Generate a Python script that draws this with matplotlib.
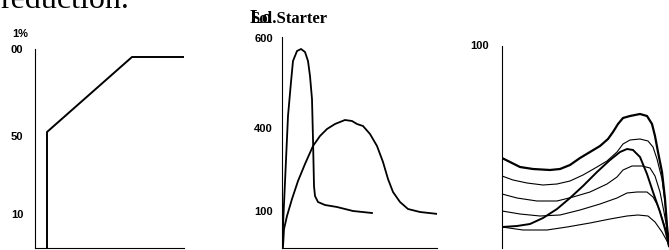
import numpy as np
import matplotlib.pyplot as plt

plt.rcParams['font.family'] = ['Liberation Serif', 'DejaVu Serif']

# Panel 1: ramp curve (x units along axis, y units above baseline)
p1_x = [12, 12, 97, 149]
p1_y = [0, 116, 191, 191]
p1_ticks = [200, 113, 35]
p1_labels = ['00', '50', '10']

# Panel 2: two current curves
p2a_x = [0, 3, 6, 9, 11, 15, 19, 23, 26, 28, 30, 31, 32, 33, 36, 43, 55, 71, 90]
p2a_y = [0, 66, 132, 166, 187, 197, 199, 196, 187, 172, 149, 109, 62, 52, 46, 43, 41, 37, 35]
p2b_x = [1, 2, 5, 10, 16, 23, 31, 38, 45, 53, 63, 70, 75, 81, 88, 95, 101, 106, 111,
         118, 126, 138, 156]
p2b_y = [1, 19, 32, 49, 67, 84, 102, 112, 119, 124, 128, 127, 124, 122, 114, 102, 86,
         69, 56, 46, 39, 36, 34]
p2_ticks = [211, 121, 38]
p2_labels = ['600', '400', '100']

# Panel 3: family of curves
p3_top_x = [0, 8, 18, 31, 48, 58, 68, 78, 88, 98, 106, 111, 116, 121, 128, 138, 145,
            150, 153, 156, 160, 163, 165, 167]
p3_top_y = [90, 86, 81, 79, 78, 79, 83, 90, 96, 102, 109, 116, 124, 130, 132, 134, 132,
            124, 112, 96, 76, 49, 22, 2]
p3_c1_x = [0, 11, 25, 41, 55, 68, 81, 95, 105, 115, 121, 128, 138, 146, 151, 155, 160,
           163, 165, 167]
p3_c1_y = [72, 68, 65, 63, 64, 67, 73, 81, 87, 96, 104, 108, 109, 107, 101, 89, 69, 46,
           22, 2]
p3_c2_x = [0, 15, 35, 55, 71, 88, 105, 115, 121, 130, 140, 148, 153, 158, 162, 165, 167]
p3_c2_y = [54, 50, 47, 47, 51, 56, 64, 71, 78, 82, 82, 80, 72, 56, 36, 19, 2]
p3_c3_x = [0, 18, 38, 58, 78, 98, 115, 125, 135, 145, 151, 156, 161, 165, 167]
p3_c3_y = [37, 34, 32, 33, 38, 44, 50, 55, 56, 56, 51, 42, 27, 14, 2]
p3_c4_x = [0, 21, 45, 65, 88, 108, 125, 136, 146, 153, 160, 165, 167]
p3_c4_y = [21, 18, 18, 21, 25, 29, 32, 33, 32, 26, 16, 7, 2]
p3_rise_x = [0, 15, 28, 41, 55, 68, 81, 95, 108, 118, 125, 131, 138, 145, 151, 158,
             163, 167]
p3_rise_y = [21, 22, 24, 30, 39, 50, 62, 76, 88, 96, 99, 98, 91, 74, 56, 36, 19, 2]
p3_ticks = [204]
p3_labels = ['100']

fig = plt.figure(figsize=(6.69, 2.51), dpi=100)
W, H = 669.0, 251.0


def make_ax(x0, x1, top, pad):
    # axes placed in pixel positions; baseline at y=249
    ax = fig.add_axes([x0 / W, (H - 249) / H, (x1 - x0) / W, (249 - top) / H])
    ax.set_xlim(0, x1 - x0)
    ax.set_ylim(0, 249 - top)
    for s in ['top', 'right']:
        ax.spines[s].set_visible(False)
    ax.set_xticks([])
    ax.tick_params(axis='y', length=0, pad=pad)
    return ax


tick_font = dict(fontsize=8, fontweight='bold', family=['Liberation Sans', 'DejaVu Sans'])

ax1 = make_ax(35, 184, 10, 8.5)
ax1.spines['left'].set_bounds(0, 199)
ax1.plot(p1_x, p1_y, color='black', lw=1.4)
ax1.set_yticks(p1_ticks, p1_labels, **tick_font)
ax1.text(-23, 215, '1%', va='center', **tick_font)

ax2 = make_ax(282, 437, 5, 6.5)
ax2.spines['left'].set_bounds(0, 211)
ax2.plot(p2a_x, p2a_y, color='black', lw=1.3)
ax2.plot(p2b_x, p2b_y, color='black', lw=1.3)
ax2.set_yticks(p2_ticks, p2_labels, **tick_font)
ax2.text(-32, 226, 'Sol.Starter', fontsize=12, fontweight='bold', va='baseline')
ax2.text(-32, 226, 'Lo', fontsize=14, fontweight='bold', va='baseline')

ax3 = make_ax(502, 669, 5, 9.5)
ax3.spines['left'].set_bounds(0, 202)
ax3.spines['bottom'].set_visible(False)
ax3.plot(p3_top_x, p3_top_y, color='black', lw=1.6)
for cx, cy in [(p3_c1_x, p3_c1_y), (p3_c2_x, p3_c2_y),
               (p3_c3_x, p3_c3_y), (p3_c4_x, p3_c4_y)]:
    ax3.plot(cx, cy, color='black', lw=0.8)
ax3.plot(p3_rise_x, p3_rise_y, color='black', lw=1.4)
ax3.set_yticks(p3_ticks, p3_labels, **tick_font)

fig.text(0, 1 - 8 / H, 'reduction.', fontsize=23, va='baseline', ha='left')

fig.savefig('out.png', dpi=100)
